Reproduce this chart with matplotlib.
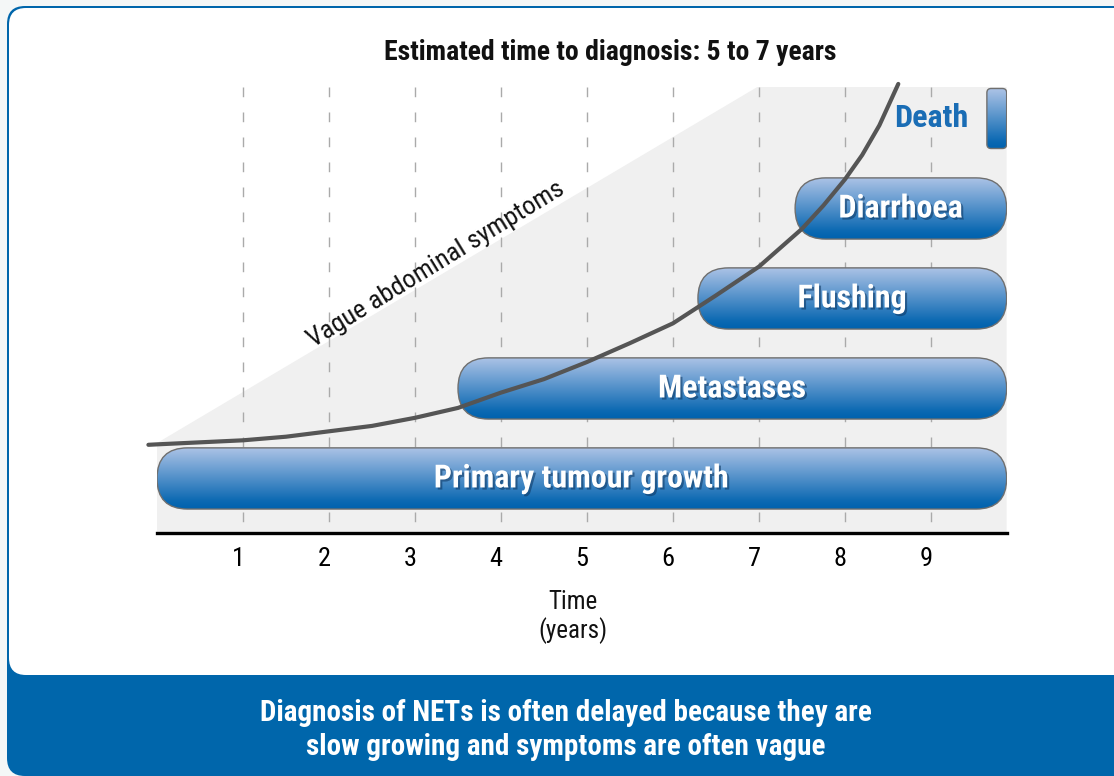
import numpy as np
import matplotlib
matplotlib.use('Agg')
import matplotlib.pyplot as plt
import matplotlib.patheffects as pe
import matplotlib.transforms as mtransforms
from matplotlib.patches import FancyBboxPatch, Polygon
from matplotlib.colors import LinearSegmentedColormap

plt.rcParams['font.family'] = ['Roboto Condensed', 'Liberation Sans Narrow', 'DejaVu Sans']

# data
stages = ['Primary tumour growth', 'Metastases', 'Flushing', 'Diarrhoea']
stage_start = [0.0, 3.5, 6.29, 7.42]
stage_end = 9.88
death_start = 9.65
years = [1, 2, 3, 4, 5, 6, 7, 8, 9]

# tumour burden curve (years, level)
curve_x = [-0.1, 0.0, 1.0, 1.5, 2.0, 2.5, 3.0, 3.5, 4.0, 4.5, 5.0, 5.5, 6.0, 6.5, 7.0, 7.5, 7.75, 8.0, 8.2, 8.4, 8.62]
curve_y = [0.98, 0.985, 1.03, 1.07, 1.13, 1.19, 1.28, 1.39, 1.56, 1.71, 1.90, 2.11, 2.33, 2.64, 2.96, 3.38, 3.64, 3.93, 4.20, 4.53, 4.99]

# shaded "vague symptoms" wedge
wedge_x = [0.0, 0.0, 6.98, 9.88, 9.88]
wedge_y = [0.0, 1.0, 4.956, 4.956, 0.0]

W, H = 1114, 776
fig = plt.figure(figsize=(W / 100, H / 100), dpi=100)
fig.patch.set_facecolor('#f4f7f7')

# frame / card in pixel coordinates
bg = fig.add_axes([0, 0, 1, 1])
bg.set_xlim(0, W)
bg.set_ylim(H, 0)
bg.axis('off')
blue = '#0066ab'
bg.add_patch(FancyBboxPatch((7, 6), 1200, 770, boxstyle='round,pad=0,rounding_size=18',
                            fc=blue, ec='none'))
bg.add_patch(FancyBboxPatch((9, 8), 1200, 667, boxstyle='round,pad=0,rounding_size=17',
                            fc='white', ec='none'))

bg.text(610, 53, 'Estimated time to diagnosis: 5 to 7 years', ha='center', va='center',
        fontsize=20, fontweight='bold', color='#111111')
bg.text(573, 617, 'Time\n(years)', ha='center', va='center', fontsize=18,
        color='#111111', linespacing=1.15)
bg.text(566, 730, 'Diagnosis of NETs is often delayed because they are\nslow growing and symptoms are often vague',
        ha='center', va='center', fontsize=21, fontweight='bold', color='white', linespacing=1.28)

# main plot
ax = fig.add_axes([157 / W, 1 - 533 / H, 850 / W, 446 / H])
ax.set_xlim(0, 9.884)
ax.set_ylim(0, 4.956)
ax.patch.set_alpha(0)
for s in ['top', 'left', 'right']:
    ax.spines[s].set_visible(False)
ax.spines['bottom'].set_linewidth(2.4)
ax.spines['bottom'].set_color('black')
ax.spines['bottom'].set_zorder(6)

ax.add_patch(Polygon(np.column_stack([wedge_x, wedge_y]), closed=True, fc='#f0f0f0', ec='none', zorder=0))
for yr in years:
    ax.plot([yr, yr], [4.956, 0], color='#aaaaaa', lw=1, dashes=(7, 11), zorder=1)

ax.set_xticks(years)
ax.set_xticklabels([str(y) for y in years], fontsize=19)
ax.tick_params(axis='x', length=0, pad=10)
ax.set_yticks([])
shift = mtransforms.ScaledTranslation(-5 / 100, 0, fig.dpi_scale_trans)
for lab in ax.get_xticklabels():
    lab.set_transform(lab.get_transform() + shift)

cmap = LinearSegmentedColormap.from_list('bar', [(0, '#0062ae'), (0.12, '#0a68b2'), (1, '#aec4e7')])
grad = np.linspace(0, 1, 256).reshape(-1, 1)
ratio = (446 / 4.956) / (850 / 9.884)  # px per y unit / px per x unit

row_h = 0.68
shadow = [pe.SimplePatchShadow(offset=(1.5, -1.5), shadow_rgbFace='#0b3560', alpha=0.55),
          pe.Normal()]


def pill(x0, x1, yc, h, rad, label=None):
    box = FancyBboxPatch((x0, yc - h / 2), x1 - x0, h,
                         boxstyle='round,pad=0,rounding_size=%f' % rad,
                         mutation_aspect=1 / ratio, fc='none', ec='#6f6f6f', lw=1, zorder=4)
    ax.add_patch(box)
    im = ax.imshow(grad, cmap=cmap, origin='lower', aspect='auto',
                   extent=[x0, x1, yc - h / 2, yc + h / 2], zorder=3)
    im.set_clip_path(box)
    if label:
        ax.text((x0 + x1) / 2, yc, label, ha='center', va='center', color='white',
                fontsize=23, fontweight='bold', zorder=7, path_effects=shadow)


for i, (name, start) in enumerate(zip(stages, stage_start)):
    pill(start, stage_end, 0.606 + i, row_h, row_h / 2 * ratio, name)
pill(death_start, stage_end, 0.606 + 4, 0.667, 0.05)
ax.text(9.0, 0.606 + 4, 'Death', ha='center', va='center', color='#1a6db5',
        fontsize=23, fontweight='bold', zorder=7)

ax.plot(curve_x, curve_y, color='#555555', lw=3, solid_capstyle='round',
        solid_joinstyle='round', zorder=5, clip_on=False)

ax.text(3.24, 2.98, 'Vague abdominal symptoms', rotation=31.5, ha='center', va='center',
        fontsize=19, color='#111111', rotation_mode='anchor', zorder=2)

fig.savefig('out.png', dpi=100, facecolor=fig.get_facecolor())
